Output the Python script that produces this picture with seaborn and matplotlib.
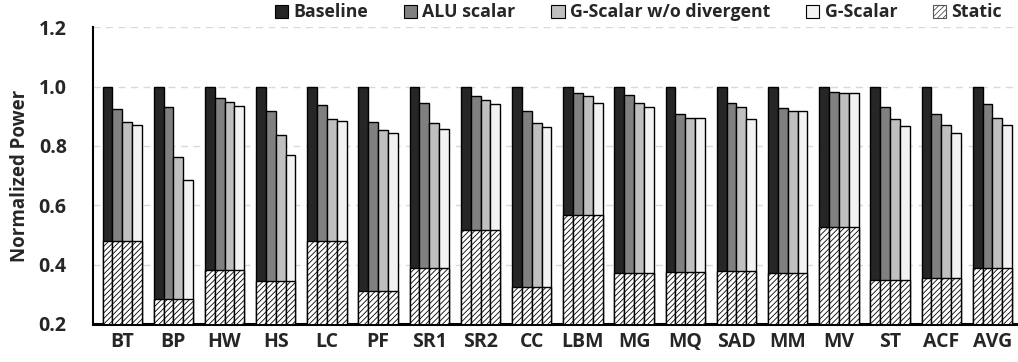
import matplotlib
matplotlib.use("Agg")
import matplotlib.pyplot as plt
from matplotlib.patches import Patch
import seaborn as sns
import pandas as pd

benchmarks = ["BT", "BP", "HW", "HS", "LC", "PF", "SR1", "SR2", "CC", "LBM",
              "MG", "MQ", "SAD", "MM", "MV", "ST", "ACF", "AVG"]
series = ["Baseline", "ALU scalar", "G-Scalar w/o divergent", "G-Scalar"]

baseline = [1.0] * len(benchmarks)
alu_scalar = [0.925, 0.930, 0.963, 0.917, 0.937, 0.881, 0.943, 0.967, 0.916, 0.977,
              0.970, 0.909, 0.943, 0.928, 0.982, 0.932, 0.908, 0.940]
gs_no_div = [0.882, 0.764, 0.948, 0.835, 0.890, 0.852, 0.876, 0.955, 0.878, 0.969,
             0.943, 0.893, 0.930, 0.917, 0.978, 0.890, 0.872, 0.895]
g_scalar = [0.872, 0.684, 0.934, 0.768, 0.883, 0.843, 0.857, 0.941, 0.862, 0.943,
            0.931, 0.893, 0.891, 0.917, 0.978, 0.868, 0.842, 0.872]
static = [0.481, 0.284, 0.382, 0.344, 0.479, 0.312, 0.389, 0.516, 0.325, 0.566,
          0.372, 0.376, 0.379, 0.372, 0.528, 0.347, 0.354, 0.388]

colors = ["#262626", "#808080", "#bfbfbf", "#f2f2f2"]

rows = []
for name, vals in zip(series, [baseline, alu_scalar, gs_no_div, g_scalar]):
    for b, v, s in zip(benchmarks, vals, static):
        rows.append({"bench": b, "series": name, "value": v, "static": s})
df = pd.DataFrame(rows)

sns.set_style("white")
plt.rcParams["font.family"] = ["Open Sans", "DejaVu Sans"]
plt.rcParams["hatch.color"] = "#3a3a3a"
plt.rcParams["hatch.linewidth"] = 0.6

fig = plt.figure(figsize=(10.18, 3.62), dpi=100)
ax = fig.add_axes([0.0914, 0.105, 0.9086, 0.82])

sns.barplot(data=df, x="bench", y="value", hue="series", hue_order=series,
            palette=colors, width=0.77, edgecolor="black", linewidth=1.0,
            ax=ax, legend=False, zorder=2)
sns.barplot(data=df, x="bench", y="static", hue="series", hue_order=series,
            palette=["white"] * 4, width=0.77, edgecolor="black", linewidth=1.0,
            hatch="//////", ax=ax, legend=False, zorder=3)

ax.set_ylim(0.2, 1.2)
ax.set_yticks([0.2, 0.4, 0.6, 0.8, 1.0, 1.2])
ax.set_yticklabels(["0.2", "0.4", "0.6", "0.8", "1.0", "1.2"])
ax.set_xlim(-0.57, len(benchmarks) - 0.5)
ax.yaxis.grid(True, linestyle=(0, (5, 4)), color="#d9d9d9", linewidth=1.0, zorder=0)
ax.set_axisbelow(True)

for s in ["top", "right"]:
    ax.spines[s].set_visible(False)
ax.spines["left"].set_linewidth(1.5)
ax.spines["left"].set_color("black")
ax.spines["bottom"].set_linewidth(2.2)
ax.spines["bottom"].set_color("black")

ax.tick_params(axis="both", length=0, labelsize=14)
ax.tick_params(axis="x", pad=6)
ax.tick_params(axis="y", pad=19)
for lab in ax.get_xticklabels() + ax.get_yticklabels():
    lab.set_fontweight("bold")
ax.set_xlabel("")
ax.set_ylabel("Normalized Power", fontsize=13.5, fontweight="bold", labelpad=6)

handles = [Patch(facecolor=c, edgecolor="black", linewidth=0.8) for c in colors]
handles.append(Patch(facecolor="white", edgecolor="#555555", linewidth=0.8, hatch="//////"))
fig.legend(handles, series + ["Static"], loc="upper right", bbox_to_anchor=(1.0, 1.035),
           ncol=5, frameon=False, prop={"weight": "bold", "size": 12.8},
           handlelength=0.75, handleheight=0.75, handletextpad=0.3, columnspacing=2.0)

fig.savefig("out.png", dpi=100)
